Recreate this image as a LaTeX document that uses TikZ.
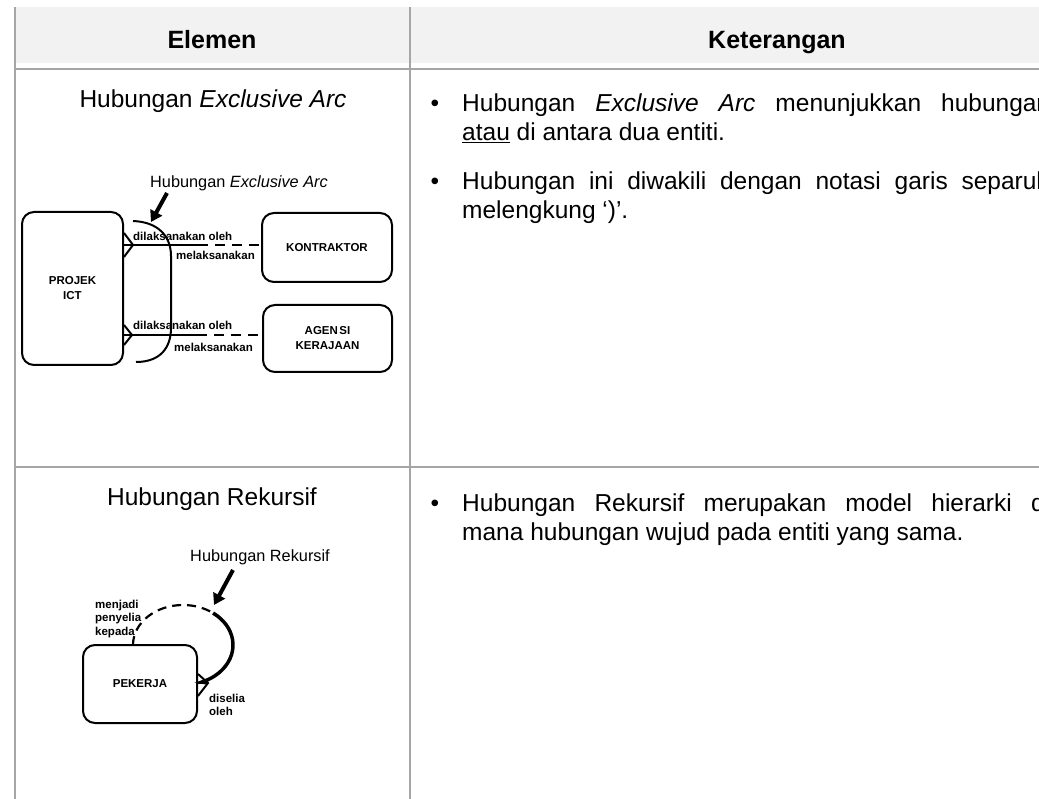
\documentclass[tikz,border=0pt]{standalone}
\usepackage{fontspec}
\setmainfont{Liberation Sans}
\usetikzlibrary{arrows.meta,calc}
\definecolor{headfill}{HTML}{F2F2F2}
\definecolor{rulegray}{HTML}{A6A6A6}
\begin{document}
\begin{tikzpicture}[x=1pt,y=-1pt,
  rule/.style={draw=rulegray,line width=1.5pt},
  head/.style={font=\fontsize{25}{29}\selectfont\bfseries,inner sep=0pt},
  body/.style={font=\fontsize{24.5}{29}\selectfont,inner sep=0pt},
  small/.style={font=\fontsize{16.3}{19}\selectfont,inner sep=0pt},
  lbl/.style={font=\fontsize{11.5}{13.5}\selectfont\bfseries,inner sep=0pt},
  entity/.style={draw,line width=2pt,rounded corners=12pt,inner sep=0pt,
    font=\fontsize{11.5}{15}\selectfont\bfseries,align=center},
  conn/.style={line width=2pt},
  dashconn/.style={line width=2pt,dash pattern=on 10pt off 7pt},
  bigarrow/.style={line width=4pt,-{Triangle[length=11pt,width=13pt]}}
]
\useasboundingbox (0,0) rectangle (1039,799);

% table frame
\fill[headfill] (15,7) rectangle (1039,63);
\draw[rule] (15,7) -- (15,799);
\draw[rule] (410,7) -- (410,799);
\draw[rule] (15,69) -- (1039,69);
\draw[rule] (15,467) -- (1039,467);

% header
\node[head,anchor=base] (hElemen) at (212,49) {Elemen};
\node[head,anchor=base] (hKet) at (777,49) {Keterangan};

% left column titles
\node[body,anchor=base] (t1) at (213,108) {Hubungan \textit{Exclusive Arc}};
\node[body,anchor=base] (t2) at (212,505) {Hubungan Rekursif};

% right column text
\begin{scope}
\clip (411,70) rectangle (1039,799);
\node[body,anchor=base] (b1) at (435,112) {•};
\node[body,anchor=base west] (r1) at (462,112)
  {\makebox[588pt][s]{Hubungan \textit{Exclusive Arc} menunjukkan hubungan}};
\node[body,anchor=base west] (r2) at (462,141) {\underline{atau} di antara dua entiti.};
\node[body,anchor=base] (b2) at (435,190) {•};
\node[body,anchor=base west] (r3) at (462,190)
  {\makebox[588pt][s]{Hubungan ini diwakili dengan notasi garis separuh}};
\node[body,anchor=base west] (r4) at (462,219) {melengkung ‘)’.};
\node[body,anchor=base] (b3) at (435,511) {•};
\node[body,anchor=base west] (r5) at (462,511)
  {\makebox[588pt][s]{Hubungan Rekursif merupakan model hierarki di}};
\node[body,anchor=base west] (r6) at (462,540) {mana hubungan wujud pada entiti yang sama.};
\end{scope}

% ---- exclusive arc diagram ----
\node[entity,minimum width=101pt,minimum height=153pt] (projek) at (72.5,288.5) {PROJEK\\ICT};
\node[entity,minimum width=130pt,minimum height=69pt] (kontraktor) at (327,247.5) {KONTRAKTOR};
\node[entity,minimum width=129pt,minimum height=67pt] (agensi) at (327.5,338.5) {AGEN\kern1.5pt SI\\KERAJAAN};

\node[small] (xlab) at (239,183) {Hubungan \textit{Exclusive Arc}};
\coordinate (xa) at (167,193);
\coordinate (xb) at (151,222);
\draw[bigarrow] (xa) -- (xb);

% the exclusive arc
\draw[conn] (133,221) .. controls (158,222) and (171,236) .. (171,256)
  -- (171,328) .. controls (171,348) and (160,362) .. (136,362);

% upper relationship
\coordinate (f1) at (133,245);
\coordinate (m1) at (198,245);
\draw[conn] (projek.east |- f1) -- (m1);
\draw[dashconn] (m1) -- (kontraktor.west |- m1);
\draw[conn] ($(projek.east |- f1)+(0,-12)$) -- (f1) -- ($(projek.east |- f1)+(0,12)$);
\node[lbl,anchor=west] (d1) at (133,236) {dilaksanakan oleh};
\node[lbl,anchor=east] (m1l) at (255,255) {melaksanakan};

% lower relationship
\coordinate (f2) at (132,335);
\coordinate (m2) at (197,335);
\draw[conn] (projek.east |- f2) -- (m2);
\draw[dashconn] (m2) -- (agensi.west |- m2);
\draw[conn] ($(projek.east |- f2)+(0,-10)$) -- (f2) -- ($(projek.east |- f2)+(0,10)$);
\node[lbl,anchor=west] (d2) at (133,325) {dilaksanakan oleh};
\node[lbl,anchor=east] (m2l) at (253,347) {melaksanakan};

% ---- recursive diagram ----
\node[entity,minimum width=114pt,minimum height=78pt] (pekerja) at (140,684) {PEKERJA};

\node[small] (rlab) at (260,557) {Hubungan Rekursif};
\coordinate (ra) at (233,570);
\coordinate (rb) at (214,605);
\draw[bigarrow] (ra) -- (rb);

\coordinate (loopc) at (183,645);
\coordinate (apex) at (208,683);
\draw[line width=2.2pt,dash pattern=on 9pt off 6pt]
  ($(loopc)+(180:50 and 40)$) arc[start angle=180,end angle=307,x radius=50,y radius=40];
\draw[line width=3.5pt]
  ($(loopc)+(307:50 and 40)$) arc[start angle=307,end angle=428,x radius=50,y radius=40]
  -- (apex);
\draw[conn] (pekerja.east |- apex) -- (apex);
\draw[conn] ($(pekerja.east |- apex)+(0,-9)$) -- (apex) -- ($(pekerja.east |- apex)+(0,13)$);

\node[lbl,anchor=west,align=left] (sup) at (95,619) {menjadi\\penyelia\\kepada};
\node[lbl,anchor=west,align=left] (sub) at (209,705) {diselia\\oleh};
\end{tikzpicture}
\end{document}
